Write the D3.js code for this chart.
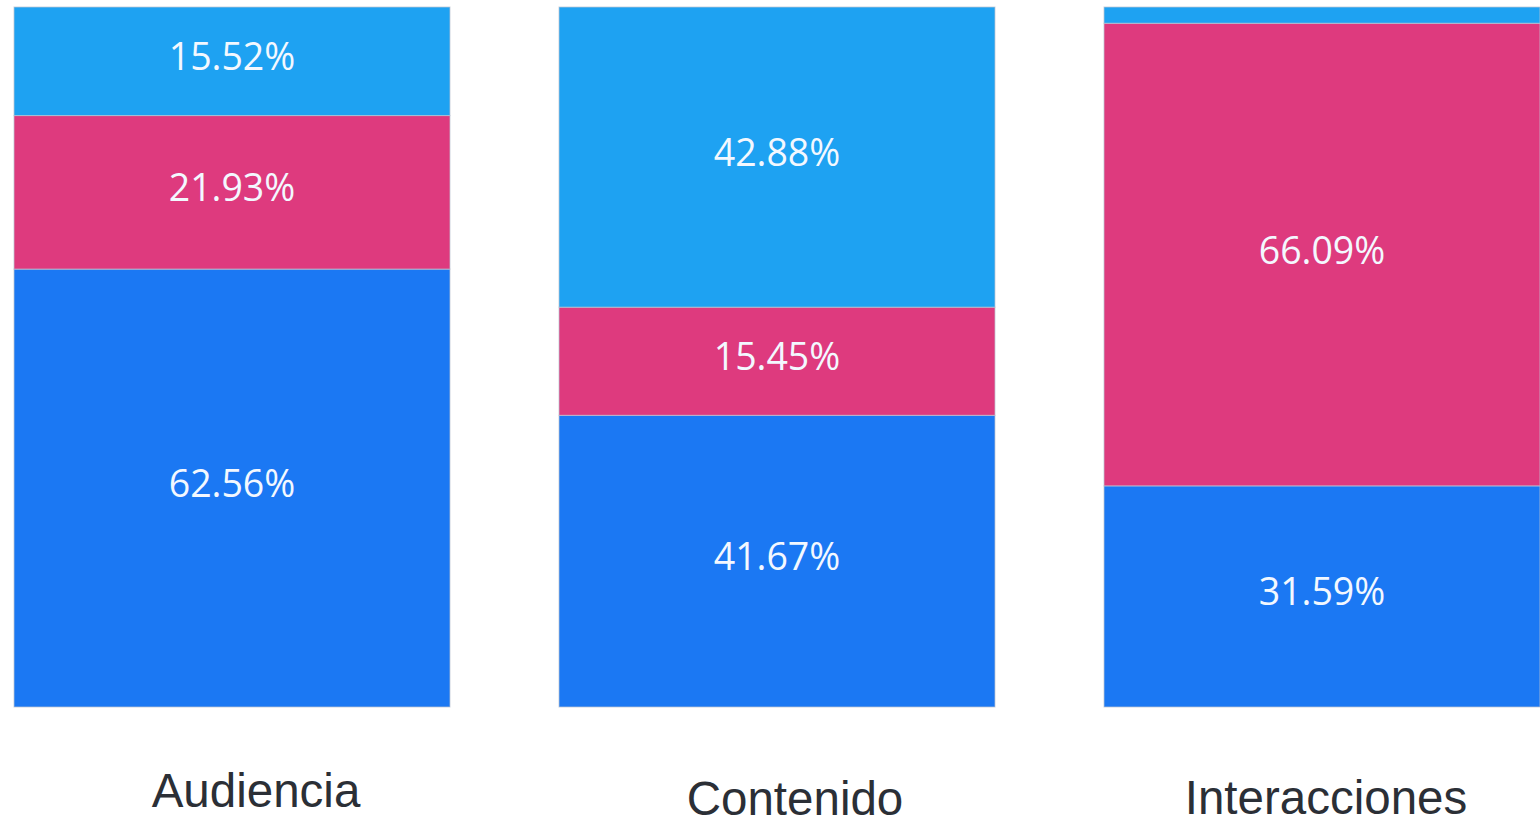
<!DOCTYPE html>
<html>
<head>
<meta charset="utf-8">
<script src="https://cdn.jsdelivr.net/npm/d3@7"></script>
<style>
  html, body { margin: 0; padding: 0; background: #ffffff; }
  svg { display: block; }
</style>
</head>
<body>
<svg id="chart" width="1540" height="822"></svg>
<script>
// Categories and the share of each segment (bottom to top), in percent
const categories = ["Audiencia", "Contenido", "Interacciones"];
const seriesKeys = ["base", "medio", "alto"];
const baseValues  = [62.56, 41.67, 31.59];
const medioValues = [21.93, 15.45, 66.09];
const altoValues  = [15.52, 42.88, 2.32];
const showLabel   = [[true, true, true], [true, true, true], [true, true, false]];

const colors = { base: "#1b78f3", medio: "#de3a7e", alto: "#1ea2f2" };

const rows = categories.map((c, i) => ({
  category: c,
  base: baseValues[i],
  medio: medioValues[i],
  alto: altoValues[i]
}));

const svg = d3.select("#chart");

const x = d3.scaleBand()
  .domain(categories)
  .range([14, 1540])
  .paddingInner(0.2)
  .paddingOuter(0);

const y = d3.scaleLinear()
  .domain([0, 100])
  .range([707, 7]);

const stack = d3.stack().keys(seriesKeys);
const layers = stack(rows);

const g = svg.append("g");

layers.forEach(layer => {
  const key = layer.key;
  g.selectAll(null)
    .data(layer)
    .join("rect")
    .attr("x", d => x(d.data.category))
    .attr("y", d => y(Math.min(d[1], 100)))
    .attr("width", x.bandwidth())
    .attr("height", d => y(d[0]) - y(Math.min(d[1], 100)))
    .attr("fill", colors[key])
    .attr("stroke", "rgba(190,196,210,0.75)")
    .attr("stroke-width", 1);
});

// Value labels centred in each segment
layers.forEach((layer, li) => {
  g.selectAll(null)
    .data(layer.filter((d, i) => showLabel[i][li]))
    .join("text")
    .attr("x", d => x(d.data.category) + x.bandwidth() / 2)
    .attr("y", d => (y(d[0]) + y(Math.min(d[1], 100))) / 2 + 9)
    .attr("text-anchor", "middle")
    .attr("font-family", "'Open Sans', 'Noto Sans', sans-serif")
    .attr("font-size", 37.5)
    .attr("fill", "#f3f8ff")
    .text(d => (d[1] - d[0]).toFixed(2) + "%");
});

// Category labels below the bars
const labelPos = [
  { dx: 24, y: 807 },
  { dx: 18, y: 815 },
  { dx: 4,  y: 814 }
];
g.selectAll(null)
  .data(categories)
  .join("text")
  .attr("x", (d, i) => x(d) + x.bandwidth() / 2 + labelPos[i].dx)
  .attr("y", (d, i) => labelPos[i].y)
  .attr("text-anchor", "middle")
  .attr("font-family", "'Liberation Sans', Arial, sans-serif")
  .attr("font-size", 47.5)
  .attr("fill", "#2b2f36")
  .text(d => d);
</script>
</body>
</html>
